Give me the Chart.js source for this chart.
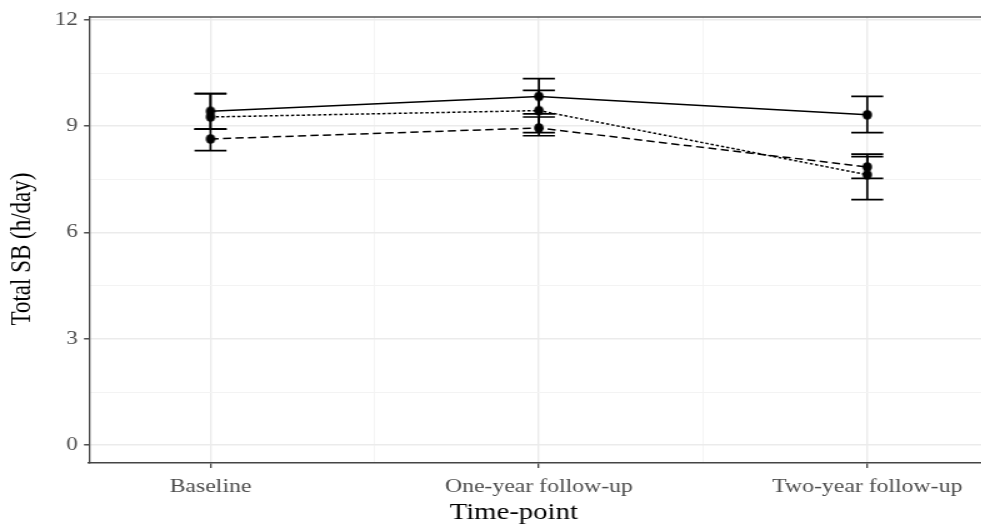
<!DOCTYPE html>
<html>
<head>
<meta charset="utf-8">
<script src="https://cdn.jsdelivr.net/npm/chart.js@4.4.1/dist/chart.umd.min.js"></script>
<style>
  html, body { margin: 0; padding: 0; background: #fff; overflow: hidden; }
  /* the reference is stretched horizontally, so draw narrow and widen */
  #wrap { width: 800px; height: 527px; transform: scaleX(1.25); transform-origin: 0 0; }
  #chart { width: 800px; height: 527px; }
</style>
</head>
<body>
<div id="wrap"><canvas id="chart" width="800" height="527"></canvas></div>
<script>
// categories on the x axis
const timePoints = ['Baseline', 'One-year follow-up', 'Two-year follow-up'];

// three groups: point estimate and error bar ends (h/day)
const solidMean = [9.42, 9.84, 9.32];
const solidLow = [8.92, 9.35, 8.82];
const solidHigh = [9.92, 10.34, 9.84];

const dottedMean = [9.26, 9.44, 7.63];
const dottedLow = [8.92, 8.82, 6.93];
const dottedHigh = [9.92, 10.01, 8.21];

const dashedMean = [8.64, 8.95, 7.85];
const dashedLow = [8.31, 8.73, 7.53];
const dashedHigh = [8.92, 9.26, 8.14];

// tick positions (major + minor grid)
const yTicks = [0, 1.5, 3, 4.5, 6, 7.5, 9, 10.5, 12];
const xTicks = [0, 0.5, 1, 1.5, 2];

const serif = "'Liberation Serif', 'DejaVu Serif', serif";
const stretch = 1.25;

function toPoints(vals) {
    return vals.map((v, i) => ({ x: i, y: v }));
}

function isMajor(v, step) {
    return Math.abs(v / step - Math.round(v / step)) < 1e-6;
}

// round dot once the page is widened: draw it narrower beforehand
function makeDot(r) {
    const c = document.createElement('canvas');
    const w = Math.ceil(2 * r / stretch) + 2, h = Math.ceil(2 * r) + 2;
    c.width = w; c.height = h;
    const g = c.getContext('2d');
    g.fillStyle = '#000';
    g.beginPath();
    g.ellipse(w / 2, h / 2, r / stretch, r, 0, 0, Math.PI * 2);
    g.fill();
    return c;
}
const dot = makeDot(4.8);

const errorBars = {
    id: 'errorBars',
    beforeDatasetsDraw(chart) {
        const ctx = chart.ctx;
        const xs = chart.scales.x, ys = chart.scales.y;
        const half = 16 / stretch;
        ctx.save();
        ctx.strokeStyle = '#000';
        ctx.lineWidth = 1.7;
        chart.data.datasets.forEach(ds => {
            ds.low.forEach((lo, i) => {
                const px = xs.getPixelForValue(i);
                const y1 = ys.getPixelForValue(lo);
                const y2 = ys.getPixelForValue(ds.high[i]);
                ctx.beginPath();
                ctx.moveTo(px, y1); ctx.lineTo(px, y2);
                ctx.moveTo(px - half, y1); ctx.lineTo(px + half, y1);
                ctx.moveTo(px - half, y2); ctx.lineTo(px + half, y2);
                ctx.stroke();
            });
        });
        ctx.restore();
    }
};

const frame = {
    id: 'frame',
    afterDraw(chart) {
        const ctx = chart.ctx;
        const a = chart.chartArea;
        ctx.save();
        ctx.strokeStyle = '#555';
        ctx.lineWidth = 1.6;
        ctx.beginPath();
        ctx.moveTo(a.left, a.top);
        ctx.lineTo(a.right, a.top);
        ctx.stroke();
        // axis titles
        ctx.fillStyle = '#000';
        ctx.textAlign = 'center';
        ctx.textBaseline = 'middle';
        ctx.font = '23px ' + serif;
        ctx.fillText('Time-point', 411, 513);
        ctx.translate(18, 249);
        ctx.rotate(-Math.PI / 2);
        ctx.font = '23px ' + serif;
        ctx.fillText('Total SB (h/day)', 0, 0);
        ctx.restore();
    }
};

const ctx = document.getElementById('chart').getContext('2d');
const chart = new Chart(ctx, {
    type: 'line',
    data: {
        datasets: [{
            label: 'solid',
            data: toPoints(solidMean),
            low: solidLow,
            high: solidHigh,
            borderColor: '#000',
            backgroundColor: '#000',
            borderWidth: 1.5,
            pointStyle: dot
        }, {
            label: 'dotted',
            data: toPoints(dottedMean),
            low: dottedLow,
            high: dottedHigh,
            borderColor: '#000',
            backgroundColor: '#000',
            borderWidth: 1.5,
            borderDash: [2.5, 1.8],
            pointStyle: dot
        }, {
            label: 'dashed',
            data: toPoints(dashedMean),
            low: dashedLow,
            high: dashedHigh,
            borderColor: '#000',
            backgroundColor: '#000',
            borderWidth: 1.5,
            borderDash: [6.5, 3.5],
            pointStyle: dot
        }]
    },
    options: {
        responsive: false,
        animation: false,
        layout: { padding: { top: 17, right: 9, left: 0, bottom: 0 } },
        plugins: {
            legend: { display: false },
            tooltip: { enabled: false }
        },
        scales: {
            x: {
                type: 'linear',
                min: -0.37,
                max: 2.37,
                afterBuildTicks: s => { s.ticks = xTicks.map(v => ({ value: v })); },
                afterFit: s => { s.height = 64; },
                grid: {
                    color: c => isMajor(c.tick.value, 1) ? '#ebebeb' : '#f3f3f3',
                    lineWidth: c => isMajor(c.tick.value, 1) ? 1.4 : 0.9,
                    tickColor: c => isMajor(c.tick.value, 1) ? '#333' : 'rgba(0,0,0,0)',
                    tickLength: 5,
                    tickWidth: 1.2
                },
                border: { color: '#444', width: 1.6 },
                ticks: {
                    autoSkip: false,
                    maxRotation: 0,
                    padding: 8,
                    color: '#4d4d4d',
                    font: { family: serif, size: 19 },
                    callback: v => isMajor(v, 1) ? timePoints[Math.round(v)] : ''
                }
            },
            y: {
                min: -0.5,
                max: 12.08,
                afterBuildTicks: s => { s.ticks = yTicks.map(v => ({ value: v })); },
                afterFit: s => { s.width = 71.2; },
                grid: {
                    color: c => isMajor(c.tick.value, 3) ? '#ebebeb' : '#f3f3f3',
                    lineWidth: c => isMajor(c.tick.value, 3) ? 1.6 : 1,
                    tickColor: c => isMajor(c.tick.value, 3) ? '#333' : 'rgba(0,0,0,0)',
                    tickLength: 4,
                    tickWidth: 1.3
                },
                border: { color: '#444', width: 1.3 },
                ticks: {
                    padding: 5,
                    color: '#4d4d4d',
                    font: { family: serif, size: 18.5 },
                    callback: v => isMajor(v, 3) ? String(v) : ''
                }
            }
        }
    },
    plugins: [errorBars, frame]
});
</script>
</body>
</html>
